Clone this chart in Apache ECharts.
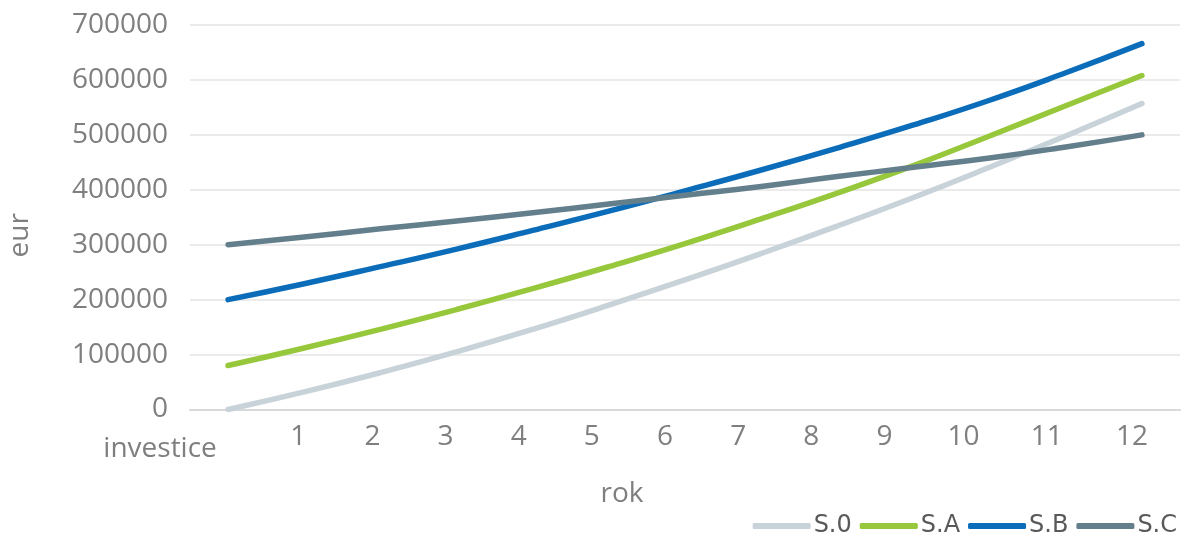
<!DOCTYPE html>
<html>
<head>
<meta charset="utf-8">
<title>Vývoj hodnoty investice</title>
<script src="https://cdn.jsdelivr.net/npm/echarts@6/dist/echarts.min.js"></script>
<style>
  html, body { margin: 0; padding: 0; background: #ffffff; }
  #chart { width: 1184px; height: 543px; }
</style>
</head>
<body>
<div id="chart"></div>
<script>
// Years on the category axis (first point is the initial investment)
const years = ['investice', '1', '2', '3', '4', '5', '6', '7', '8', '9', '10', '11', '12'];

// Cumulative value per scenario, eur
const s0 = [0, 32000, 67000, 105000, 146000, 190000, 236000, 284000, 334000, 386000, 441000, 498000, 557000];
const sA = [80000, 112000, 146000, 182000, 220000, 260000, 302000, 347000, 394000, 444000, 498000, 553000, 608000];
const sB = [200000, 229000, 260000, 292000, 326000, 361000, 398000, 436000, 476000, 518000, 563000, 613000, 666000];
const sC = [300000, 314000, 329000, 343000, 358000, 374000, 390000, 406000, 424000, 441000, 458000, 478000, 500000];

const seriesNames = ['S.0', 'S.A', 'S.B', 'S.C'];
const seriesData = [s0, sA, sB, sC];
const seriesColors = ['#c8d3d9', '#97c83c', '#0b6dba', '#647f8c'];

// Horizontal nudge (px, negative = left) for each year label, and extra drop for the first one
const labelShift = [-68, -6, -8, -11, -14, -17, -20, -23, -26, -29, -26, -19, -10];
const firstLabelDrop = 12;

const gray = '#7f7f7f';
const axisFont = 'Open Sans';

const rich = {};
labelShift.forEach((s, i) => {
  rich['p' + i] = {
    fontFamily: axisFont,
    fontSize: 28,
    color: gray,
    padding: [i === 0 ? firstLabelDrop : 0, s < 0 ? -2 * s : 0, 0, s > 0 ? 2 * s : 0]
  };
});

const chart = echarts.init(document.getElementById('chart'), null, { renderer: 'canvas' });

chart.setOption({
  animation: false,
  backgroundColor: '#ffffff',
  grid: {
    left: 190,
    right: 4,
    top: 25,
    bottom: 133.5,
    containLabel: false,
    outerBoundsMode: 'none'
  },
  legend: {
    right: 2,
    bottom: 0,
    itemWidth: 58,
    itemHeight: 6,
    itemGap: 8,
    icon: 'roundRect',
    data: seriesNames,
    textStyle: {
      fontFamily: 'DejaVu Sans',
      fontSize: 24,
      color: '#595959',
      padding: [0, 0, 0, -2]
    }
  },
  xAxis: {
    type: 'category',
    data: years,
    boundaryGap: true,
    name: 'rok',
    nameLocation: 'middle',
    nameGap: 71,
    nameTextStyle: {
      fontFamily: axisFont,
      fontSize: 28,
      color: gray,
      padding: [0, 126, 0, 0]
    },
    axisLine: { show: true, lineStyle: { color: '#d9d9d9', width: 2 } },
    axisTick: { show: false },
    splitLine: { show: false },
    axisLabel: {
      interval: 0,
      hideOverlap: false,
      margin: 14,
      formatter: (value, index) => '{p' + index + '|' + value + '}',
      rich: rich
    }
  },
  yAxis: {
    type: 'value',
    min: 0,
    max: 700000,
    interval: 100000,
    name: 'eur',
    nameLocation: 'middle',
    nameRotate: 90,
    nameGap: 156,
    nameTextStyle: {
      fontFamily: axisFont,
      fontSize: 28,
      color: gray,
      padding: [0, 36, 0, 0]
    },
    axisLine: { show: false },
    axisTick: { show: false },
    axisLabel: {
      margin: 22,
      fontFamily: axisFont,
      fontSize: 28,
      color: gray,
      formatter: (v) => String(v)
    },
    splitLine: { lineStyle: { color: '#e4e4e4', width: 1.5 } }
  },
  series: seriesNames.map((name, i) => ({
    name: name,
    type: 'line',
    data: seriesData[i],
    smooth: true,
    showSymbol: false,
    symbol: 'none',
    color: seriesColors[i],
    lineStyle: { color: seriesColors[i], width: 5.5, cap: 'round', join: 'round' }
  }))
});
</script>
</body>
</html>
